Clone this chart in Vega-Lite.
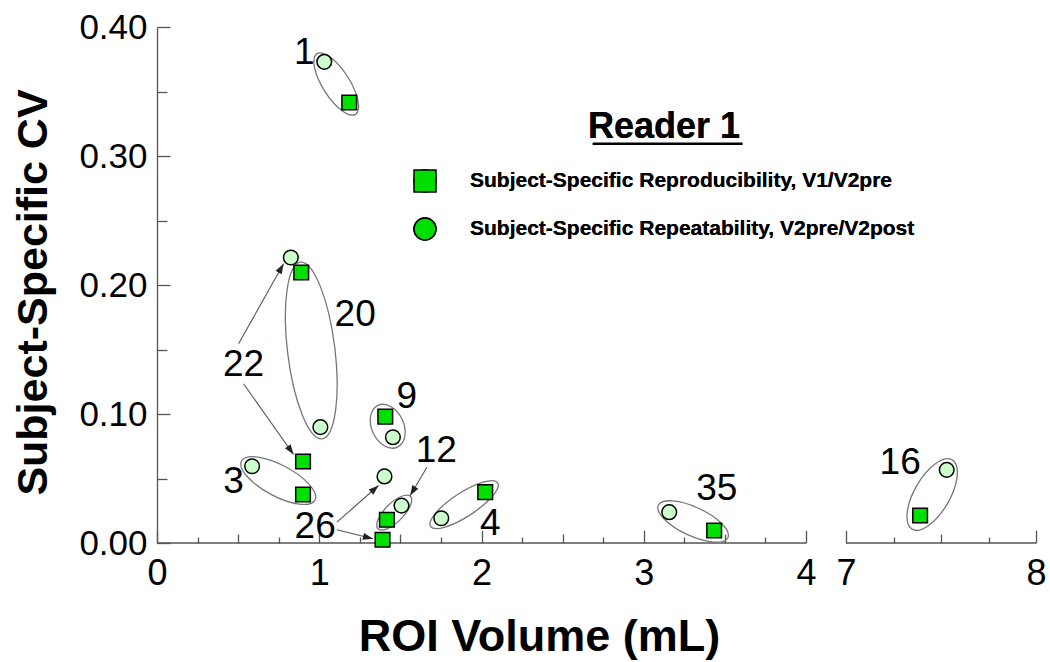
{
  "$schema": "https://vega.github.io/schema/vega-lite/v6.json",
  "width": 879,
  "height": 516,
  "autosize": {"type": "none"},
  "padding": {"left": 157, "top": 27, "right": 14, "bottom": 119},
  "background": "white",
  "config": {
    "view": {"stroke": null},
    "font": "Liberation Sans"
  },
  "layer": [
    {
      "data": {"values": [{"a": 0, "b": 4}, {"a": 7, "b": 8}]},
      "mark": {"type": "rule", "color": "#555555", "strokeWidth": 1.3},
      "encoding": {
        "x": {"field": "a", "type": "quantitative"},
        "x2": {"field": "b"},
        "y": {"datum": 0, "type": "quantitative"}
      }
    },
    {
      "data": {"values": [
        {"subject": "1", "cx": 1.1047, "cy": 0.3558},
        {"subject": "20", "cx": 0.9507, "cy": 0.1492},
        {"subject": "9", "cx": 1.422, "cy": 0.0905},
        {"subject": "3", "cx": 0.7474, "cy": 0.0484},
        {"subject": "12", "cx": 1.462, "cy": 0.0236},
        {"subject": "4", "cx": 1.893, "cy": 0.0298},
        {"subject": "35", "cx": 3.304, "cy": 0.0167},
        {"subject": "16", "cx": 7.4535, "cy": 0.0376}
      ]},
      "mark": {"type": "point", "filled": false, "color": "#777777", "strokeWidth": 1.3, "size": 4, "opacity": 1},
      "encoding": {
        "x": {"field": "cx", "type": "quantitative"},
        "y": {"field": "cy", "type": "quantitative"},
        "shape": {
          "field": "subject", "type": "nominal", "legend": null,
          "scale": {
            "domain": ["1", "20", "9", "3", "12", "4", "35", "16"],
            "range": [
              "M -19.34 -30.36 A 36 13.7 57.5 0 1 19.34 30.36 A 36 13.7 57.5 0 1 -19.34 -30.36 Z",
              "M -10.85 -88.33 A 89 24 83 0 1 10.85 88.33 A 89 24 83 0 1 -10.85 -88.33 Z",
              "M -9.72 -20.85 A 23 16 65 0 1 9.72 20.85 A 23 16 65 0 1 -9.72 -20.85 Z",
              "M -36.73 -19.53 A 41.6 15.7 28 0 1 36.73 19.53 A 41.6 15.7 28 0 1 -36.73 -19.53 Z",
              "M -16.26 16.26 A 23 9.5 -45 0 1 16.26 -16.26 A 23 9.5 -45 0 1 -16.26 16.26 Z",
              "M -33.55 21.78 A 40 12 -33 0 1 33.55 -21.78 A 40 12 -33 0 1 -33.55 21.78 Z",
              "M -34.8 -16.23 A 38.4 14.4 25 0 1 34.8 16.23 A 38.4 14.4 25 0 1 -34.8 -16.23 Z",
              "M -20 34.64 A 40 17.9 -60 0 1 20 -34.64 A 40 17.9 -60 0 1 -20 34.64 Z"
            ]
          }
        }
      }
    },
    {
      "data": {"values": [
        {"x0": 0.5028, "y0": 0.15442, "x1": 0.7800, "y1": 0.21643},
        {"x0": 0.5336, "y0": 0.12341, "x1": 0.8417, "y1": 0.06860},
        {"x0": 1.1091, "y0": 0.01612, "x1": 1.3654, "y1": 0.04457},
        {"x0": 1.1091, "y0": 0.01023, "x1": 1.3309, "y1": 0.00326},
        {"x0": 1.6636, "y0": 0.05876, "x1": 1.5607, "y1": 0.03682}
      ]},
      "mark": {"type": "rule", "color": "#555555", "strokeWidth": 1.1},
      "encoding": {
        "x": {"field": "x0", "type": "quantitative"},
        "y": {"field": "y0", "type": "quantitative"},
        "x2": {"field": "x1"},
        "y2": {"field": "y1"}
      }
    },
    {
      "data": {"values": [
        {"x0": 0.5028, "y0": 0.15442, "x1": 0.7800, "y1": 0.21643},
        {"x0": 0.5336, "y0": 0.12341, "x1": 0.8417, "y1": 0.06860},
        {"x0": 1.1091, "y0": 0.01612, "x1": 1.3654, "y1": 0.04457},
        {"x0": 1.1091, "y0": 0.01023, "x1": 1.3309, "y1": 0.00326},
        {"x0": 1.6636, "y0": 0.05876, "x1": 1.5607, "y1": 0.03682}
      ]},
      "mark": {
        "type": "point", "filled": true, "color": "#222222", "size": 4, "opacity": 1,
        "shape": "M 0 0 L -3.5 10 L 3.5 10 Z",
        "angle": {"expr": "atan2(scale('x', datum.x1) - scale('x', datum.x0), scale('y', datum.y0) - scale('y', datum.y1)) * 180 / PI"}
      },
      "encoding": {
        "x": {"field": "x1", "type": "quantitative"},
        "y": {"field": "y1", "type": "quantitative"}
      }
    },
    {
      "data": {"values": [
        {"subject": "1", "type": "Subject-Specific Reproducibility, V1/V2pre", "vol": 1.185, "cv": 0.3415},
        {"subject": "20", "type": "Subject-Specific Reproducibility, V1/V2pre", "vol": 0.889, "cv": 0.2097},
        {"subject": "22", "type": "Subject-Specific Reproducibility, V1/V2pre", "vol": 0.900, "cv": 0.0632},
        {"subject": "3", "type": "Subject-Specific Reproducibility, V1/V2pre", "vol": 0.900, "cv": 0.0376},
        {"subject": "9", "type": "Subject-Specific Reproducibility, V1/V2pre", "vol": 1.407, "cv": 0.0980},
        {"subject": "12", "type": "Subject-Specific Reproducibility, V1/V2pre", "vol": 1.417, "cv": 0.0180},
        {"subject": "26", "type": "Subject-Specific Reproducibility, V1/V2pre", "vol": 1.390, "cv": 0.0025},
        {"subject": "4", "type": "Subject-Specific Reproducibility, V1/V2pre", "vol": 2.023, "cv": 0.0394},
        {"subject": "35", "type": "Subject-Specific Reproducibility, V1/V2pre", "vol": 3.434, "cv": 0.0097},
        {"subject": "16", "type": "Subject-Specific Reproducibility, V1/V2pre", "vol": 7.390, "cv": 0.0213},
        {"subject": "1", "type": "Subject-Specific Repeatability, V2pre/V2post", "vol": 1.031, "cv": 0.3730},
        {"subject": "22", "type": "Subject-Specific Repeatability, V2pre/V2post", "vol": 0.825, "cv": 0.2213},
        {"subject": "20", "type": "Subject-Specific Repeatability, V2pre/V2post", "vol": 1.007, "cv": 0.0898},
        {"subject": "9", "type": "Subject-Specific Repeatability, V2pre/V2post", "vol": 1.454, "cv": 0.0820},
        {"subject": "3", "type": "Subject-Specific Repeatability, V2pre/V2post", "vol": 0.586, "cv": 0.0595},
        {"subject": "26", "type": "Subject-Specific Repeatability, V2pre/V2post", "vol": 1.402, "cv": 0.0516},
        {"subject": "12", "type": "Subject-Specific Repeatability, V2pre/V2post", "vol": 1.507, "cv": 0.0290},
        {"subject": "4", "type": "Subject-Specific Repeatability, V2pre/V2post", "vol": 1.752, "cv": 0.0192},
        {"subject": "35", "type": "Subject-Specific Repeatability, V2pre/V2post", "vol": 3.157, "cv": 0.0239},
        {"subject": "16", "type": "Subject-Specific Repeatability, V2pre/V2post", "vol": 7.530, "cv": 0.0567}
      ]},
      "mark": {"type": "point", "filled": true, "stroke": "black", "strokeWidth": 1.5, "size": 215, "opacity": 1},
      "encoding": {
        "x": {
          "field": "vol", "type": "quantitative", "title": "ROI Volume (mL)",
          "scale": {"domain": [0, 4, 7, 8], "range": [0, 649, 689, 879], "nice": false, "zero": false},
          "axis": {
            "domain": false, "grid": false,
            "values": [0, 0.25, 0.5, 0.75, 1, 1.25, 1.5, 1.75, 2, 2.25, 2.5, 2.75, 3, 3.25, 3.5, 3.75, 4, 7, 7.25, 7.5, 7.75, 8],
            "labelExpr": "abs(datum.value - round(datum.value)) < 0.000001 ? format(datum.value, 'd') : ''",
            "labelFlush": false, "labelOverlap": false, "labelBound": false,
            "labelFont": "Liberation Sans", "labelFontSize": 36, "labelColor": "black", "labelPadding": 26,
            "tickColor": "#555555", "tickWidth": 1.3,
            "tickSize": {"condition": [
              {"test": "abs(datum.value - round(datum.value)) < 0.000001", "value": -12.7},
              {"test": "abs(datum.value * 2 - round(datum.value * 2)) < 0.000001", "value": -9}
            ], "value": -6},
            "titleFont": "Liberation Sans", "titleFontSize": 45, "titleFontWeight": "bold", "titleColor": "black",
            "titleX": 382, "titleY": 107.5, "titleBaseline": "alphabetic", "titleAlign": "center"
          }
        },
        "y": {
          "field": "cv", "type": "quantitative", "title": "Subject-Specific CV",
          "scale": {"domain": [0, 0.4], "nice": false, "zero": false},
          "axis": {
            "domain": true, "domainColor": "#555555", "domainWidth": 1.3, "grid": false,
            "values": [0, 0.025, 0.05, 0.075, 0.1, 0.125, 0.15, 0.175, 0.2, 0.225, 0.25, 0.275, 0.3, 0.325, 0.35, 0.375, 0.4],
            "labelExpr": "abs(datum.value * 10 - round(datum.value * 10)) < 0.000001 ? format(datum.value, '.2f') : ''",
            "labelOverlap": false, "labelFlush": false, "labelBound": false,
            "labelFont": "Liberation Sans", "labelFontSize": 35, "labelColor": "black", "labelPadding": 23,
            "tickColor": "#555555", "tickWidth": 1.3,
            "tickSize": {"condition": [
              {"test": "abs(datum.value * 10 - round(datum.value * 10)) < 0.000001", "value": -13},
              {"test": "abs(datum.value * 20 - round(datum.value * 20)) < 0.000001", "value": -10}
            ], "value": -7.5},
            "titleFont": "Liberation Sans", "titleFontSize": 43, "titleFontWeight": "bold", "titleColor": "black",
            "titleX": -111, "titleY": 265, "titleBaseline": "alphabetic", "titleAlign": "center", "titleAngle": 270
          }
        },
        "shape": {
          "field": "type", "type": "nominal",
          "scale": {"domain": ["Subject-Specific Reproducibility, V1/V2pre", "Subject-Specific Repeatability, V2pre/V2post"], "range": ["square", "circle"]},
          "legend": {
            "title": "Reader 1", "orient": "none", "legendX": 256, "legendY": 83,
            "titleFont": "Liberation Sans", "titleFontSize": 36, "titleFontWeight": "bold", "titleColor": "black",
            "titleAnchor": "middle", "titlePadding": 23,
            "labelFont": "Liberation Sans", "labelFontSize": 21, "labelFontWeight": "bold", "labelColor": "black", "labelLimit": 0,
            "labelOffset": 33, "rowPadding": 20, "padding": 0,
            "symbolSize": 484, "symbolFillColor": "#00e000", "symbolStrokeColor": "black", "symbolStrokeWidth": 1.5, "symbolOpacity": 1
          }
        },
        "color": {
          "field": "type", "type": "nominal",
          "scale": {"domain": ["Subject-Specific Reproducibility, V1/V2pre", "Subject-Specific Repeatability, V2pre/V2post"], "range": ["#00e000", "#ccffcc"]},
          "legend": {
            "title": "Reader 1", "orient": "none", "legendX": 256, "legendY": 83,
            "titleFont": "Liberation Sans", "titleFontSize": 36, "titleFontWeight": "bold", "titleColor": "black",
            "titleAnchor": "middle", "titlePadding": 23,
            "labelFont": "Liberation Sans", "labelFontSize": 21, "labelFontWeight": "bold", "labelColor": "black", "labelLimit": 0,
            "labelOffset": 33, "rowPadding": 20, "padding": 0,
            "symbolSize": 484, "symbolFillColor": "#00e000", "symbolStrokeColor": "black", "symbolStrokeWidth": 1.5, "symbolOpacity": 1
          }
        }
      }
    },
    {
      "data": {"values": [
        {"label": "1", "lx": 0.9076, "ly": 0.3802},
        {"label": "20", "lx": 1.2212, "ly": 0.1764},
        {"label": "22", "lx": 0.5336, "ly": 0.1376},
        {"label": "9", "lx": 1.540, "ly": 0.1130},
        {"label": "3", "lx": 0.472, "ly": 0.0471},
        {"label": "12", "lx": 1.721, "ly": 0.0712},
        {"label": "26", "lx": 0.975, "ly": 0.0123},
        {"label": "4", "lx": 2.054, "ly": 0.0149},
        {"label": "35", "lx": 3.450, "ly": 0.0420},
        {"label": "16", "lx": 7.285, "ly": 0.0622}
      ]},
      "mark": {"type": "text", "font": "Liberation Sans", "fontSize": 37, "color": "black", "align": "center", "baseline": "middle"},
      "encoding": {
        "x": {"field": "lx", "type": "quantitative"},
        "y": {"field": "ly", "type": "quantitative"},
        "text": {"field": "label"}
      }
    },
    {
      "data": {"values": [{"ux0": 2.685, "ux1": 3.609, "uy": 0.3095}]},
      "mark": {"type": "rule", "color": "black", "strokeWidth": 2.5},
      "encoding": {
        "x": {"field": "ux0", "type": "quantitative"},
        "x2": {"field": "ux1"},
        "y": {"field": "uy", "type": "quantitative"}
      }
    }
  ],
  "resolve": {"scale": {"shape": "independent"}}
}
